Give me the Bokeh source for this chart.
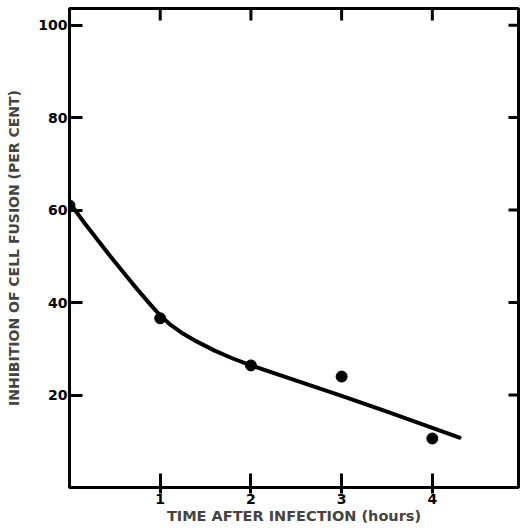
from bokeh.plotting import figure
from bokeh.models import Range1d, LinearAxis, FixedTicker
from bokeh.embed import file_html
from bokeh.resources import INLINE

# measured points
hours = [0, 1, 2, 3, 4]
inhibition = [61.0, 36.6, 26.4, 24.0, 10.6]

# hand-drawn fitted curve
curve_x = [0.02, 0.15, 0.3, 0.45, 0.6, 0.75, 0.9, 1.0, 1.1, 1.25, 1.4, 1.6, 1.8, 2.0, 2.5, 3.0, 3.5, 4.0, 4.3]
curve_y = [61.1, 57.6, 53.8, 50.0, 46.4, 42.8, 39.4, 37.2, 35.4, 33.3, 31.6, 29.6, 27.9, 26.4, 23.1, 19.8, 16.4, 12.9, 10.8]

y_ticks = [20, 40, 60, 80, 100]
x_ticks = [1, 2, 3, 4]
x_max = 4.95
y_max = 103.6

FONT = "DejaVu Sans"
W, H = 522, 527
BL, BR, BT, BB = 69, 4, 8, 40
frame_w = W - BL - BR
frame_h = H - BT - BB

p = figure(width=W, height=H, output_backend="svg", toolbar_location=None,
           x_range=Range1d(0, x_max), y_range=Range1d(0, y_max),
           x_axis_location=None, y_axis_location=None,
           min_border_left=BL, min_border_right=BR, min_border_top=BT, min_border_bottom=BB)
p.outline_line_color = "black"
p.outline_line_width = 3
p.xgrid.visible = False
p.ygrid.visible = False
p.background_fill_color = "white"
p.border_fill_color = "white"

def style(ax, tin, tout):
    ax.axis_line_width = 3
    ax.axis_line_color = "black"
    ax.major_tick_line_width = 3
    ax.major_tick_line_color = "black"
    ax.major_tick_in = tin
    ax.major_tick_out = tout
    ax.minor_tick_line_color = None
    ax.major_label_text_font = FONT
    ax.major_label_text_font_style = "bold"
    ax.major_label_text_font_size = "14px"
    ax.major_label_text_color = "black"

left = LinearAxis(ticker=FixedTicker(ticks=list(y_ticks)))
style(left, 13, 0)
left.major_label_standoff = 2
left.axis_label = "INHIBITION OF CELL FUSION (PER CENT)"
left.axis_label_text_font = FONT
left.axis_label_text_font_style = "bold"
left.axis_label_text_font_size = "14px"
left.axis_label_standoff = 13
p.add_layout(left, "left")

bottom = LinearAxis(ticker=FixedTicker(ticks=list(x_ticks)))
style(bottom, 14, 6)
bottom.major_label_standoff = 0
bottom.axis_label = "TIME AFTER INFECTION (hours)"
bottom.axis_label_text_font = FONT
bottom.axis_label_text_font_style = "bold"
bottom.axis_label_text_font_size = "14.5px"
bottom.axis_label_standoff = 1
p.add_layout(bottom, "below")

p.line(curve_x, curve_y, line_width=4, line_color="black", line_cap="round", line_join="round")
p.scatter(hours, inhibition, size=11, fill_color="black", line_color="black")

# inward tick marks on the top and right edges, drawn as broken polylines
nan = float("nan")
top_len = 12 * y_max / frame_h
right_len = 10 * x_max / frame_w
tx, ty = [], []
for t in x_ticks:
    tx += [float(t), float(t), nan]
    ty += [y_max, y_max - top_len, nan]
rx, ry = [], []
for t in y_ticks:
    rx += [x_max, x_max - right_len, nan]
    ry += [float(t), float(t), nan]
p.line(tx, ty, line_width=3, line_color="black")
p.line(rx, ry, line_width=3, line_color="black")

open("out.html", "w").write(file_html(p, INLINE))
